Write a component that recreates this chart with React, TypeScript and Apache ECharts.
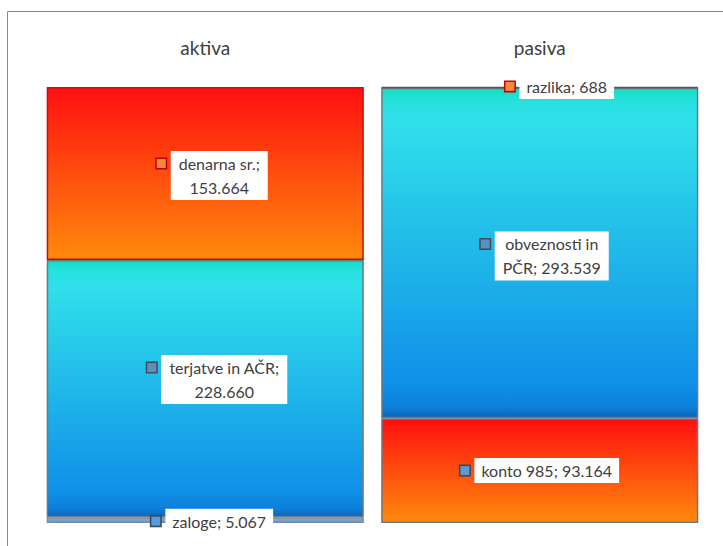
import React, { useEffect, useRef } from 'react';
import * as echarts from 'echarts';

const categories = ['aktiva', 'pasiva'];
const bottomNames = ['zaloge', 'konto 985'];
const bottomValues = [5067, 93164];
const middleNames = ['terjatve in AČR', 'obveznosti in PČR'];
const middleValues = [228660, 293539];
const topNames = ['denarna sr.', 'razlika'];
const topValues = [153664, 688];
const axisMax = 387391;

const FONT = 'Lato';

const fmt = (v: number) => String(v).replace(/\B(?=(\d{3})+(?!\d))/g, '.');

function labelLines(name: string, v: number): string[] {
  if (name === 'denarna sr.' || name === 'terjatve in AČR') return [`${name};`, fmt(v)];
  if (name === 'obveznosti in PČR') return ['obveznosti in', `PČR; ${fmt(v)}`];
  return [`${name}; ${fmt(v)}`];
}

export default function App() {
  const ref = useRef<HTMLDivElement>(null);
  useEffect(() => {
    const chart = echarts.init(ref.current!, null, { renderer: 'svg' });
    const canvas = document.createElement('canvas');
    const ctx = canvas.getContext('2d')!;
    ctx.font = `16px ${FONT}`;
    const measure = (s: string) => ctx.measureText(s).width;

    const red = () =>
      new echarts.graphic.LinearGradient(0, 0, 0, 1, [
        { offset: 0, color: '#ff1010' },
        { offset: 1, color: '#ff8a0c' },
      ]);
    const cyan = () =>
      new echarts.graphic.LinearGradient(0, 0, 0, 1, [
        { offset: 0, color: '#12dfc0' },
        { offset: 0.04, color: '#28e0e0' },
        { offset: 0.1, color: '#30e0ea' },
        { offset: 0.9, color: '#1090e8' },
        { offset: 0.97, color: '#0c7fd8' },
        { offset: 1, color: '#0a66b8' },
      ]);
    const steel = () =>
      new echarts.graphic.LinearGradient(0, 0, 0, 1, [
        { offset: 0, color: '#8ab0dc' },
        { offset: 1, color: '#6a98cc' },
      ]);

    const keys = [
      { fill: '#5b9bd5', border: '#3a4655' },
      { fill: '#5a8fbf', border: '#414b5a' },
      { fill: '#f08a3c', border: '#c00000' },
    ];

    const textStyle = {
      fontSize: 16,
      fontFamily: FONT,
      color: '#404040',
      lineHeight: 24,
      height: 25,
      backgroundColor: '#ffffff',
      align: 'center',
      verticalAlign: 'middle',
    };

    const makeItem = (
      value: number,
      name: string,
      fill: any,
      border: string,
      key: { fill: string; border: string },
      offset: number[]
    ) => {
      const lines = labelLines(name, value);
      const W = Math.ceil(Math.max(...lines.map(measure))) + 1;
      const rich: any = {
        k: { width: 9, height: 9, backgroundColor: key.fill, borderColor: key.border, borderWidth: 1.5, verticalAlign: 'middle' },
        kb: { width: 9, height: 9 },
        g: { width: 5 },
        w: { ...textStyle, width: W, padding: [0, 7, 0, 7] },
        ws: { ...textStyle, padding: [0, 7, 0, 7] },
      };
      const formatter =
        lines.length === 1
          ? `{k|}{g|}{ws|${lines[0]}}`
          : `{k|}{g|}{w|${lines[0]}}\n{kb|}{g|}{w|${lines[1]}}`;
      return {
        value,
        name,
        itemStyle: { color: fill, borderColor: border, borderWidth: 1.5 },
        label: {
          show: true,
          position: 'inside',
          formatter,
          rich,
          offset,
          lineHeight: 24,
          textBorderWidth: 0,
          color: '#404040',
        },
      };
    };

    const grayBorder = '#6c7886';

    const series = [
      {
        name: 's1',
        data: [
          makeItem(bottomValues[0], bottomNames[0], steel(), '#7a8aa0', keys[0], [7, 1]),
          makeItem(bottomValues[1], bottomNames[1], red(), grayBorder, keys[0], [0, 0]),
        ],
      },
      {
        name: 's2',
        data: [
          makeItem(middleValues[0], middleNames[0], cyan(), grayBorder, keys[1], [12, -9]),
          makeItem(middleValues[1], middleNames[1], cyan(), grayBorder, keys[1], [5, 3]),
        ],
      },
      {
        name: 's3',
        data: [
          makeItem(topValues[0], topNames[0], red(), '#c0100c', keys[2], [7, 2]),
          makeItem(topValues[1], topNames[1], '#f08a3c', '#555555', keys[2], [20, -1]),
        ],
      },
    ].map((s) => ({
      ...s,
      type: 'bar',
      stack: 'total',
      barCategoryGap: '5.2%',
      xAxisIndex: 0,
      yAxisIndex: 0,
    }));

    chart.setOption({
      animation: false,
      grid: { left: 38, right: 16, top: 87, bottom: 23, containLabel: false },
      xAxis: [
        {
          type: 'category',
          data: categories,
          position: 'top',
          axisLine: { show: false },
          axisTick: { show: false },
          axisLabel: { fontSize: 19, color: '#404040', fontFamily: FONT, margin: 30 },
        },
        {
          type: 'category',
          data: categories,
          position: 'bottom',
          axisLine: {
            show: true,
            lineStyle: { color: '#8c8c8c', width: 2, shadowColor: 'rgba(0,0,0,0.35)', shadowBlur: 2, shadowOffsetY: 1 },
          },
          axisTick: { show: false },
          axisLabel: { show: false },
        },
      ],
      yAxis: { type: 'value', min: 0, max: axisMax, show: false },
      graphic: [
        {
          type: 'rect',
          silent: true,
          z: -10,
          shape: { x: 7.5, y: 11.5, width: 760, height: 600 },
          style: { fill: 'none', stroke: '#8c8c8c', lineWidth: 1 },
        },
      ],
      series,
    });
    return () => chart.dispose();
  }, []);
  return <div ref={ref} style={{ position: 'absolute', left: 0, top: 0, width: 723, height: 546 }} />;
}
